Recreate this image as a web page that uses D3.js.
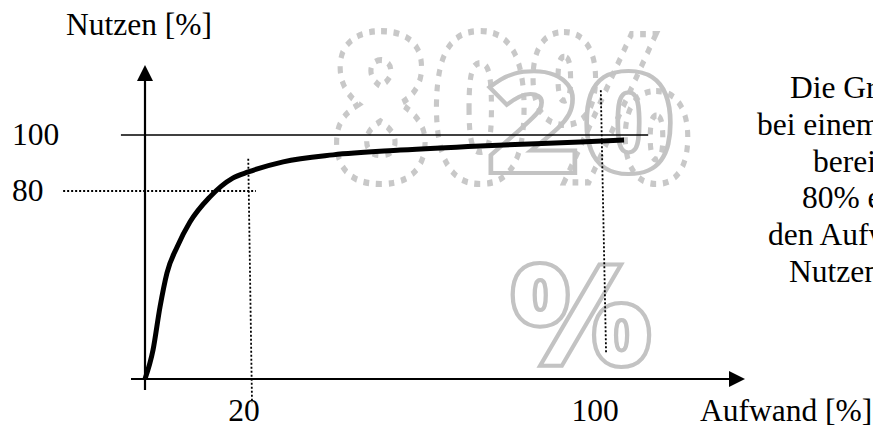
<!DOCTYPE html>
<html>
<head>
<meta charset="utf-8">
<script src="https://cdn.jsdelivr.net/npm/d3@7"></script>
<style>
  body { margin: 0; background: #fff; }
  svg { display: block; }
</style>
</head>
<body>
<svg id="chart"></svg>
<script>
// curve (Aufwand % -> Nutzen %)
const aufwand = [0, 1.5, 2.8, 4.1, 6.0, 8.4, 12.1, 16.4, 19.3, 27.1, 38.5, 53.8, 72.0, 94.8, 104.8];
const nutzen  = [0, 12.3, 30.6, 45.1, 56.2, 66.8, 77.4, 84.6, 86.8, 90.4, 92.9, 94.6, 96.1, 97.5, 98.2];

const xTicks = [20, 100];
const yTicks = [100, 80];
const xTitle = "Aufwand [%]";
const yTitle = "Nutzen [%]";

// text on the right, cut off by the page edge
const noteLines = ["Die Grafik", "bei einem Aufwand", "bereits", "80% erreicht", "den Aufwand", "Nutzen"];
const watermark = ["80%", "20", "%"];

class ParetoChart {
    margin = { top: 0, right: 0, bottom: 0, left: 0 }

    constructor(svg, width = 873, height = 426) {
        this.svg = svg;
        this.width = width;
        this.height = height;
    }

    initialize() {
        this.svg = d3.select(this.svg)
            .attr("width", this.width)
            .attr("height", this.height);
        this.container = this.svg.append("g");

        // the sketch is not to scale, so both scales are piecewise
        this.x = d3.scaleLinear().domain([0, 20, 100]).range([145, 252, 603]);
        this.y = d3.scaleLinear().domain([0, 80, 100]).range([379, 191, 135]);
    }

    update() {
        const g = this.container, x = this.x, y = this.y;
        const serif = "'Liberation Serif', 'Times New Roman', serif";
        const fs = "31.5px";

        // grey watermark behind everything
        const wm = g.append("g")
            .style("font-family", "'Noto Sans', 'Open Sans', sans-serif")
            .style("font-weight", 900)
            .style("fill", "none");
        wm.append("text")
            .attr("transform", "translate(331,182) scale(1,1.38)")
            .attr("textLength", 360).attr("lengthAdjust", "spacingAndGlyphs")
            .style("font-size", "150px")
            .style("stroke", "#c8c8c8").style("stroke-width", 4.5)
            .style("stroke-dasharray", "5 6")
            .text(watermark[0]);
        wm.append("text")
            .attr("transform", "translate(486,173)")
            .attr("textLength", 190).attr("lengthAdjust", "spacingAndGlyphs")
            .style("font-size", "140px")
            .style("stroke", "#c3c3c3").style("stroke-width", 4)
            .text(watermark[1]);
        wm.append("text")
            .attr("transform", "translate(510,366)")
            .attr("textLength", 142).attr("lengthAdjust", "spacingAndGlyphs")
            .style("font-size", "142px")
            .style("stroke", "#c3c3c3").style("stroke-width", 4)
            .text(watermark[2]);

        // 100 reference line
        g.append("line")
            .attr("x1", x(-4.5)).attr("x2", x(110.3))
            .attr("y1", y(100)).attr("y2", y(100))
            .style("stroke", "#000").style("stroke-width", 1.6);

        // dotted guides at 20 / 80 and at 100
        const dotted = [
            [[-15.3, 80], [20.9, 80]],
            [[19.3, 91.5], [20, -10.2]],
            [[99.5, 116], [100.7, 11]]
        ];
        g.selectAll(".guide").data(dotted).enter().append("line")
            .attr("class", "guide")
            .attr("x1", d => x(d[0][0])).attr("y1", d => y(d[0][1]))
            .attr("x2", d => x(d[1][0])).attr("y2", d => y(d[1][1]))
            .style("stroke", "#000").style("stroke-width", 1.8)
            .style("stroke-dasharray", "2 2");

        // axes with arrow heads
        const x0 = x(0), y0 = y(0);
        const xEnd = 745, yEnd = 65;
        g.append("line").attr("x1", 131).attr("x2", xEnd - 10).attr("y1", y0).attr("y2", y0)
            .style("stroke", "#000").style("stroke-width", 2.2);
        g.append("line").attr("x1", x0).attr("x2", x0).attr("y1", 390).attr("y2", yEnd + 10)
            .style("stroke", "#000").style("stroke-width", 2.2);
        g.append("path")
            .attr("d", `M${xEnd},${y0} L${xEnd - 16},${y0 - 8} L${xEnd - 16},${y0 + 8} Z`)
            .style("fill", "#000");
        g.append("path")
            .attr("d", `M${x0},${yEnd} L${x0 - 8},${yEnd + 16} L${x0 + 8},${yEnd + 16} Z`)
            .style("fill", "#000");

        // the curve
        const pts = aufwand.map((a, i) => [a, nutzen[i]]);
        g.append("path")
            .datum(pts)
            .attr("d", d3.line().x(d => x(d[0])).y(d => y(d[1])).curve(d3.curveMonotoneX))
            .style("fill", "none")
            .style("stroke", "#000")
            .style("stroke-width", 5);

        // tick labels
        g.selectAll(".xt").data(xTicks).enter().append("text")
            .attr("class", "xt")
            .attr("x", d => x(d) - 8).attr("y", 421)
            .attr("text-anchor", "middle")
            .style("font-family", serif).style("font-size", fs)
            .text(d => d);
        g.selectAll(".yt").data(yTicks).enter().append("text")
            .attr("class", "yt")
            .attr("x", 12).attr("y", d => y(d) + 10)
            .style("font-family", serif).style("font-size", fs)
            .text(d => d);

        // axis titles
        g.append("text").attr("x", 66).attr("y", 35)
            .style("font-family", serif).style("font-size", fs)
            .text(yTitle);
        g.append("text").attr("x", 700).attr("y", 421)
            .style("font-family", serif).style("font-size", fs)
            .text(xTitle);

        // note text
        const noteX = [790, 757, 813, 802, 768, 789];
        g.selectAll(".note").data(noteLines).enter().append("text")
            .attr("class", "note")
            .attr("x", (d, i) => noteX[i])
            .attr("y", (d, i) => 98 + i * 36.8)
            .style("font-family", serif).style("font-size", fs)
            .text(d => d);
    }
}

const chart = new ParetoChart(document.getElementById("chart"));
chart.initialize();
chart.update();
</script>
</body>
</html>
